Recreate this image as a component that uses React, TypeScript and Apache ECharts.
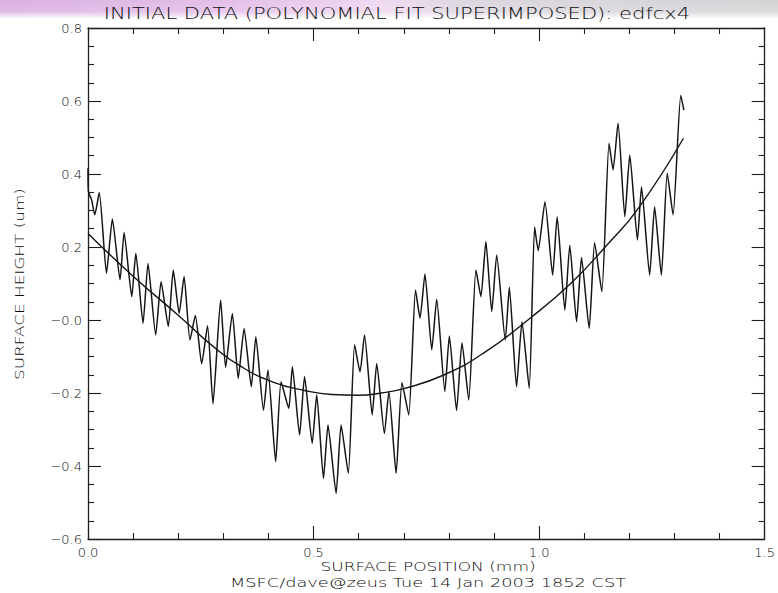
import React, { useEffect, useRef } from "react";
import * as echarts from "echarts";

const DATA_X = [
  0.0, 0.001, 0.008, 0.015, 0.025, 0.041, 0.054, 0.071, 0.08, 0.097, 0.106, 0.122, 0.133, 0.15, 0.162,
  0.178, 0.189, 0.202, 0.213, 0.226, 0.238, 0.252, 0.265, 0.277, 0.294, 0.305, 0.32, 0.333, 0.346, 0.362,
  0.372, 0.389, 0.399, 0.416, 0.428, 0.445, 0.453, 0.469, 0.48, 0.497, 0.507, 0.522, 0.532, 0.55, 0.561,
  0.577, 0.591, 0.603, 0.613, 0.63, 0.64, 0.657, 0.667, 0.683, 0.696, 0.711, 0.726, 0.736, 0.747, 0.762,
  0.773, 0.791, 0.801, 0.817, 0.829, 0.844, 0.86, 0.871, 0.882, 0.895, 0.906, 0.925, 0.934, 0.95, 0.962,
  0.978, 0.99, 0.998, 1.013, 1.03, 1.04, 1.057, 1.068, 1.083, 1.094, 1.111, 1.123, 1.139, 1.155, 1.164,
  1.175, 1.19, 1.201, 1.218, 1.227, 1.245, 1.256, 1.271, 1.284, 1.297, 1.314, 1.321,
];
const DATA_Y = [
  0.416, 0.352, 0.329, 0.288, 0.349, 0.128, 0.277, 0.11, 0.24, 0.064, 0.183, -0.009, 0.155, -0.041, 0.105,
  -0.018, 0.137, 0.018, 0.119, -0.055, 0.012, -0.12, -0.016, -0.23, 0.055, -0.13, 0.018, -0.16, -0.023, -0.183,
  -0.046, -0.247, -0.137, -0.388, -0.169, -0.242, -0.128, -0.315, -0.155, -0.338, -0.205, -0.434, -0.288, -0.475, -0.288,
  -0.42, -0.068, -0.142, -0.041, -0.26, -0.119, -0.311, -0.196, -0.42, -0.171, -0.26, 0.082, 0.005, 0.126, -0.082,
  0.057, -0.196, -0.044, -0.248, -0.062, -0.219, 0.137, 0.064, 0.215, 0.023, 0.178, -0.055, 0.09, -0.183, -0.005,
  -0.187, 0.255, 0.19, 0.324, 0.123, 0.283, 0.027, 0.205, -0.005, 0.171, -0.023, 0.212, 0.078, 0.484, 0.411,
  0.539, 0.283, 0.452, 0.219, 0.365, 0.123, 0.31, 0.123, 0.402, 0.288, 0.616, 0.575,
];

// Polynomial fit curve
const FIT_X = [0.0, 0.1, 0.2, 0.28, 0.34, 0.41, 0.48, 0.54, 0.6, 0.65, 0.7, 0.79, 0.88, 0.98, 1.07, 1.15, 1.22, 1.32];
const FIT_Y = [0.237, 0.12, 0.013, -0.075, -0.128, -0.17, -0.193, -0.204, -0.206, -0.2, -0.188, -0.15, -0.088, 0.005, 0.1, 0.205, 0.306, 0.498];

const X_LABELS = ["0.0", "0.5", "1.0", "1.5"];
const Y_LABELS = ["\u22120.6", "\u22120.4", "\u22120.2", "\u22120.0", "0.2", "0.4", "0.6", "0.8"];

const TITLE = "INITIAL DATA (POLYNOMIAL FIT SUPERIMPOSED): edfcx4";
const X_NAME = "SURFACE POSITION (mm)";
const Y_NAME = "SURFACE HEIGHT (um)";
const FOOTER = "MSFC/dave@zeus Tue 14 Jan 2003 1852 CST";

export default function App() {
  const ref = useRef<HTMLDivElement>(null);

  useEffect(() => {
    if (!ref.current) return;
    const chart = echarts.init(ref.current, null, { renderer: "svg" });
    const ink = "#1e1e1e";
    const textInk = "#0c0c0c";
    const font = '"DejaVu Sans", sans-serif';

    const lineStyle = { color: ink, width: 1.3 };
    const xBase = {
      type: "value",
      min: 0,
      max: 1.5,
      interval: 0.5,
      axisLine: { show: true, onZero: false, lineStyle },
      axisTick: { show: true, inside: true, length: 13, lineStyle: { color: ink, width: 1.1 } },
      minorTick: { show: true, splitNumber: 5, length: 6, lineStyle: { color: ink, width: 1.1 } },
      splitLine: { show: false },
      minorSplitLine: { show: false },
    };
    const yBase = {
      type: "value",
      min: -0.6,
      max: 0.8,
      interval: 0.2,
      axisLine: { show: true, onZero: false, lineStyle },
      axisTick: { show: true, inside: true, length: 13, lineStyle: { color: ink, width: 1.1 } },
      minorTick: { show: true, splitNumber: 4, length: 6, lineStyle: { color: ink, width: 1.1 } },
      splitLine: { show: false },
      minorSplitLine: { show: false },
    };

    const textStyle = (text: string, size: number) => ({
      text,
      fill: textInk,
      font: `200 ${size}px ${font}`,
      textAlign: "center",
      textVerticalAlign: "middle",
    });

    chart.setOption({
      animation: false,
      backgroundColor: "#ffffff",
      grid: { left: 88, right: 12, top: 28, bottom: 54, containLabel: false },
      xAxis: [
        {
          ...xBase,
          position: "bottom",
          axisLabel: {
            show: true,
            margin: 7,
            color: textInk,
            fontSize: 13,
            fontWeight: 200,
            fontFamily: font,
            formatter: (v: number) => X_LABELS[Math.round(v / 0.5)] ?? "",
          },
        },
        { ...xBase, position: "top", axisLabel: { show: false } },
      ],
      yAxis: [
        {
          ...yBase,
          position: "left",
          axisLabel: {
            show: true,
            margin: 6,
            color: textInk,
            fontSize: 13,
            fontWeight: 200,
            fontFamily: font,
            formatter: (v: number) => Y_LABELS[Math.round((v + 0.6) / 0.2)] ?? "",
          },
        },
        { ...yBase, position: "right", axisLabel: { show: false } },
      ],
      series: [
        {
          type: "line",
          xAxisIndex: 0,
          yAxisIndex: 0,
          data: DATA_X.map((x, i) => [x, DATA_Y[i]]),
          showSymbol: false,
          smooth: 0.18,
          lineStyle: { color: "#151515", width: 1.5 },
          silent: true,
        },
        {
          type: "line",
          xAxisIndex: 0,
          yAxisIndex: 0,
          data: FIT_X.map((x, i) => [x, FIT_Y[i]]),
          showSymbol: false,
          smooth: true,
          lineStyle: { color: "#151515", width: 1.4 },
          silent: true,
        },
      ],
      graphic: [
        {
          type: "rect",
          z: -10,
          silent: true,
          shape: { x: 0, y: 0, width: 778, height: 18 },
          style: {
            fill: new echarts.graphic.LinearGradient(0, 0, 1, 0, [
              { offset: 0, color: "#d9b0e0" },
              { offset: 0.3, color: "#e4bfe9" },
              { offset: 0.5, color: "#efdaf1" },
              { offset: 0.6, color: "#dcd6e0" },
              { offset: 1, color: "#d4d4d6" },
            ]),
          },
        },
        {
          type: "rect",
          z: -9,
          silent: true,
          shape: { x: 0, y: 0, width: 778, height: 19 },
          style: {
            fill: new echarts.graphic.LinearGradient(0, 0, 0, 1, [
              { offset: 0, color: "rgba(255,255,255,0)" },
              { offset: 0.6, color: "rgba(255,255,255,0.15)" },
              { offset: 1, color: "rgba(255,255,255,1)" },
            ]),
          },
        },
        { type: "text", x: 397, y: 14, scaleX: 1.35, silent: true, style: textStyle(TITLE, 15.6) },
        { type: "text", x: 428, y: 567, scaleX: 1.36, silent: true, style: textStyle(X_NAME, 12.5) },
        { type: "text", x: 428, y: 583, scaleX: 1.42, silent: true, style: textStyle(FOOTER, 12.5) },
        {
          type: "text",
          x: 19,
          y: 284,
          rotation: Math.PI / 2,
          scaleX: 1.35,
          silent: true,
          style: textStyle(Y_NAME, 12.5),
        },
      ],
    });

    return () => chart.dispose();
  }, []);

  return (
    <div
      ref={ref}
      style={{ position: "fixed", left: 0, top: 0, width: 778, height: 593, background: "#fff" }}
    />
  );
}
